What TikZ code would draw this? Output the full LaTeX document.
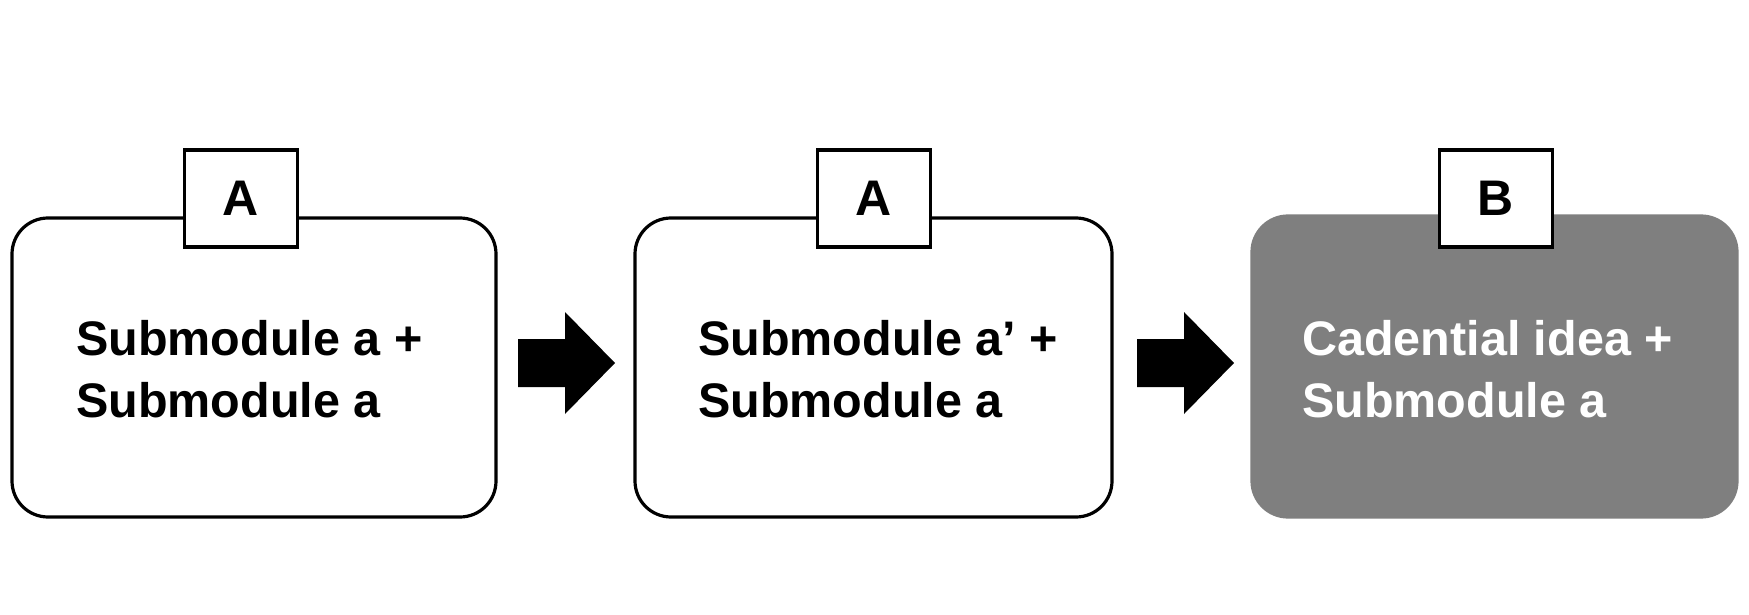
\documentclass[tikz,border=0pt]{standalone}
\usepackage{fontspec}
\setmainfont{Liberation Sans}
\begin{document}
\begin{tikzpicture}[x=1pt,y=-1pt,
  modbox/.style={draw=black, line width=3.2pt, fill=white, rounded corners=36pt,
    minimum width=484pt, minimum height=299pt, inner sep=0pt, outer sep=0pt},
  darkbox/.style={modbox, draw=boxgray, fill=boxgray},
  tagbox/.style={draw=black, line width=3.2pt, fill=white, minimum width=113pt,
    minimum height=97pt, inner sep=0pt, outer sep=0pt,
    font=\fontsize{50}{50}\selectfont\bfseries},
  modtext/.style={anchor=base west, align=left, inner sep=0pt,
    font=\fontsize{48.5}{62}\selectfont\bfseries},
  blockarrow/.style={fill=black, draw=none}
]
\definecolor{boxgray}{HTML}{7F7F7F}
\useasboundingbox[fill=white] (0,0) rectangle (1749,615);

% boxes
\node[modbox] (b1) at (254,367.5) {};
\node[modbox, minimum width=477pt] (b2) at (873.5,367.5) {};
\node[darkbox, minimum width=485pt, minimum height=301pt] (b3) at (1494.5,366.5) {};

% tags
\node[tagbox] (t1) at (241,198.5) {A};
\node[tagbox] (t2) at (874,198.5) {A};
\node[tagbox] (t3) at (1496,198.5) {B};

% texts (anchored at the baseline of the last line)
\node[modtext] (x1) at (76,417) {Submodule a +\\Submodule a};
\node[modtext] (x2) at (698,417) {Submodule a’ +\\Submodule a};
\node[modtext, text=white] (x3) at (1302,417) {Cadential idea +\\Submodule a};

% block arrows
\coordinate (a1) at (518,363);
\coordinate (a2) at (1137,363);
\foreach \c in {a1,a2}{
  \fill[blockarrow] (\c) ++(0,-24) -- ++(47,0) -- ++(0,-27) -- ++(50,51)
    -- ++(-50,51) -- ++(0,-27) -- ++(-47,0) -- cycle;
}
\end{tikzpicture}
\end{document}
